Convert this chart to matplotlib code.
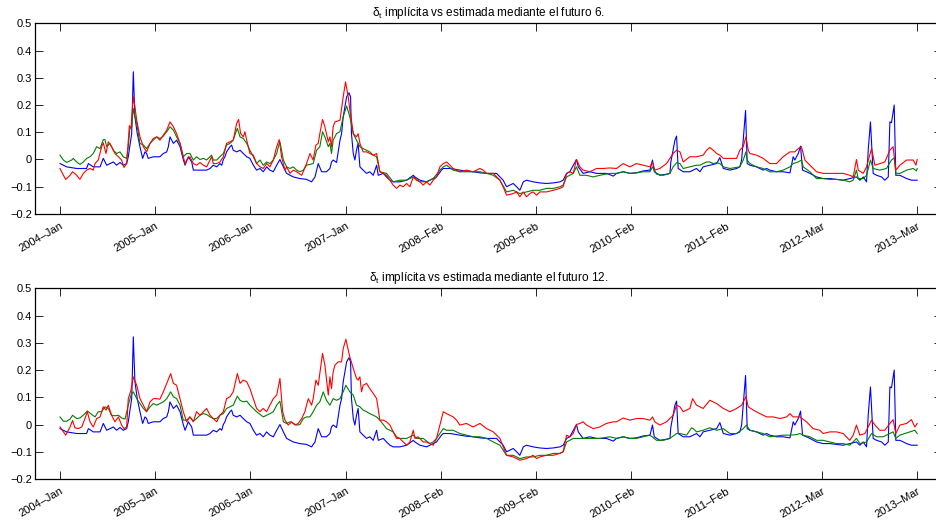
import numpy as np
import matplotlib
matplotlib.use("Agg")
import matplotlib.pyplot as plt

plt.rcParams['font.family'] = ['Liberation Sans', 'DejaVu Sans']
plt.rcParams['axes.unicode_minus'] = True

# Weekly observation index; one labelled tick every 53 weeks
tick_weeks = [0, 53, 106, 159, 212, 265, 318, 371, 424, 477]
tick_labels = ["2004–Jan", "2005–Jan", "2006–Jan", "2007–Jan", "2008–Feb",
               "2009–Feb", "2010–Feb", "2011–Feb", "2012–Mar", "2013–Mar"]
y_ticks = [-0.2, -0.1, 0.0, 0.1, 0.2, 0.3, 0.4, 0.5]
y_tick_labels = ["−0.2", "−0.1", "0", "0.1", "0.2", "0.3", "0.4", "0.5"]

# Implied delta_t (same series in both panels)
implied_weeks = [
    0, 3.7, 9.3, 14.8, 15.8, 18.5, 22.3, 24.1, 26.0, 29.7, 31.5, 33.4, 35.2, 37.1, 38.0, 39.9,
    40.8, 41.7, 43.0, 44.5, 46.0, 47.3, 48.2, 49.1, 51.9, 55.6, 57.5, 59.4, 60.3, 61.2, 63.1,
    64.9, 66.8, 68.6, 69.6, 71.4, 73.3, 74.2, 77.9, 81.6, 83.5, 85.3, 87.2, 89.0, 90.0, 90.9,
    91.8, 92.7, 94.6, 95.5, 96.4, 98.3, 100.2, 102.0, 103.9, 105.7, 107.6, 109.4, 111.3, 113.1,
    115.0, 116.8, 118.7, 120.6, 122.4, 124.3, 126.1, 129.8, 133.5, 137.2, 140.0, 141.9, 143.7,
    145.6, 148.3, 150.2, 151.1, 152.0, 153.9, 155.8, 156.7, 157.6, 159.5, 160.8, 161.7, 162.2,
    163.2, 164.1, 165.0, 165.9, 166.9, 168.7, 170.6, 172.4, 174.3, 176.2, 177.1, 179.9, 181.7,
    183.6, 185.4, 189.1, 192.9, 196.6, 197.5, 200.3, 204.0, 207.7, 209.5, 212.3, 213.3, 217.0,
    222.5, 226.2, 229.9, 233.7, 237.4, 241.1, 242.9, 244.8, 246.6, 248.5, 252.2, 254.1, 255.9,
    257.8, 259.6, 263.3, 267.0, 270.7, 274.5, 278.2, 280.0, 281.9, 283.7, 287.4, 288.4, 291.1,
    294.9, 298.6, 304.1, 307.9, 309.7, 313.4, 317.1, 320.8, 324.5, 328.3, 329.7, 330.7, 333.8,
    337.5, 339.4, 339.9, 342.2, 343.1, 344.0, 346.8, 350.5, 354.2, 356.1, 357.9, 361.6, 365.4,
    367.2, 369.1, 372.8, 376.5, 378.3, 379.3, 380.2, 381.5, 382.4, 383.9, 387.6, 391.3, 393.2,
    395.0, 398.7, 402.4, 406.2, 408.0, 408.9, 410.8, 412.1, 413.2, 415.4, 417.3, 421.0, 424.7,
    428.4, 432.1, 435.8, 439.5, 443.2, 445.1, 447.0, 448.8, 449.8, 451.0, 452.5, 454.4, 457.2,
    459.0, 460.9, 461.8, 462.7, 464.2, 465.1, 467.4, 471.1, 473.8, 477.0]
implied_vals = [
    -0.015, -0.027, -0.033, -0.033, -0.015, -0.027, -0.027, 0.004, -0.021, -0.009, -0.021, -0.011,
    -0.021, -0.015, 0.010, 0.095, 0.322, 0.157, 0.095, 0.047, 0.004, 0.028, 0.022, 0.004, 0.010,
    0.010, 0.022, 0.028, 0.047, 0.083, 0.059, 0.071, 0.047, 0.000, -0.021, 0.010, -0.009, -0.039,
    -0.039, -0.039, -0.033, -0.021, -0.027, -0.015, -0.021, 0.000, 0.010, 0.028, 0.047, 0.053,
    0.034, 0.028, 0.034, 0.022, 0.010, 0.004, -0.021, -0.039, -0.033, -0.045, -0.027, -0.039,
    -0.045, -0.021, 0.000, -0.027, -0.051, -0.064, -0.070, -0.073, -0.082, -0.064, -0.015,
    -0.045, -0.045, -0.033, -0.009, -0.002, -0.011, 0.071, 0.095, 0.157, 0.230, 0.245, 0.230,
    0.095, 0.022, -0.002, 0.034, 0.059, -0.027, -0.039, -0.051, -0.045, -0.058, -0.021, -0.058,
    -0.051, -0.064, -0.076, -0.082, -0.082, -0.076, -0.058, -0.064, -0.076, -0.082, -0.070,
    -0.064, -0.039, -0.033, -0.033, -0.039, -0.043, -0.045, -0.049, -0.051, -0.051, -0.051,
    -0.064, -0.076, -0.100, -0.088, -0.100, -0.113, -0.082, -0.076, -0.082, -0.086, -0.088,
    -0.086, -0.082, -0.076, -0.051, -0.045, 0.000, -0.027, -0.051, -0.045, -0.051, -0.051,
    -0.061, -0.051, -0.045, -0.051, -0.049, -0.042, -0.039, -0.002, -0.045, -0.058, -0.054,
    -0.051, -0.010, 0.071, 0.086, -0.033, -0.045, -0.045, -0.033, -0.045, -0.027, -0.021,
    -0.015, 0.007, -0.033, -0.039, -0.033, -0.027, -0.002, 0.071, 0.180, -0.015, -0.021,
    -0.027, -0.039, -0.033, -0.039, -0.045, -0.045, -0.049, 0.010, -0.002, 0.022, 0.049,
    -0.039, -0.045, -0.051, -0.064, -0.070, -0.070, -0.073, -0.076, -0.070, -0.064, -0.076,
    -0.064, -0.082, 0.040, 0.138, -0.051, -0.058, -0.064, -0.076, -0.064, 0.138, 0.135, 0.200,
    -0.058, -0.058, -0.070, -0.076, -0.076]

# Estimate from future 6 (green) and its alternative (red)
f6_green_weeks = [
    0, 1.9, 3.7, 6.5, 7.4, 9.3, 11.1, 13.0, 14.8, 16.7, 18.5, 20.4, 22.3, 24.1, 25.0, 26.0, 27.8,
    29.7, 31.5, 33.4, 35.2, 37.1, 38.0, 38.9, 39.9, 40.8, 41.7, 42.7, 44.5, 46.4, 48.2, 50.1,
    51.9, 53.8, 55.6, 57.5, 59.4, 61.2, 63.1, 64.9, 66.8, 68.6, 70.5, 72.3, 74.2, 76.0, 77.9,
    79.8, 81.6, 84.4, 85.3, 87.2, 89.0, 90.9, 92.7, 94.6, 96.4, 98.3, 98.7, 100.2, 102.0, 103.9,
    105.7, 107.6, 109.4, 111.3, 113.1, 115.0, 116.8, 118.7, 120.6, 121.5, 122.4, 124.3, 126.1,
    128.0, 129.8, 131.7, 133.5, 135.4, 137.2, 140.9, 142.8, 144.6, 146.1, 147.4, 149.3, 150.2,
    151.1, 152.0, 153.9, 155.8, 157.6, 159.5, 161.3, 163.2, 165.0, 166.9, 168.7, 170.6, 172.4,
    174.3, 176.2, 178.0, 181.7, 185.4, 189.1, 192.9, 196.6, 200.3, 204.0, 207.7, 211.4, 213.3,
    215.1, 218.8, 222.5, 226.2, 229.9, 233.7, 237.4, 241.1, 244.8, 248.5, 252.2, 255.9, 259.6,
    263.3, 267.0, 270.7, 274.5, 278.2, 280.0, 281.9, 285.6, 287.4, 289.3, 293.0, 296.7, 300.4,
    306.0, 309.7, 313.4, 317.1, 320.8, 324.5, 328.3, 329.7, 332.0, 335.7, 339.4, 341.2, 343.1,
    345.0, 346.8, 350.5, 354.2, 356.1, 359.8, 361.6, 363.5, 365.4, 367.2, 369.1, 372.8, 378.3,
    380.2, 381.7, 382.4, 383.9, 387.6, 391.3, 395.0, 398.7, 402.4, 406.2, 408.0, 410.8, 412.6,
    413.6, 417.3, 421.0, 424.7, 428.4, 432.1, 435.8, 439.5, 441.4, 443.2, 444.2, 447.0, 448.8,
    451.0, 452.5, 456.2, 459.9, 462.7, 464.2, 465.1, 467.4, 471.1, 474.8, 476.6, 477.0]
f6_green_vals = [
    0.016, -0.002, -0.011, -0.002, 0.004, -0.009, -0.018, -0.009, 0.004, 0.010, 0.022, 0.047,
    0.040, 0.073, 0.073, 0.047, 0.059, 0.034, 0.022, 0.028, 0.010, 0.004, 0.047, 0.114, 0.120,
    0.187, 0.157, 0.132, 0.059, 0.053, 0.040, 0.059, 0.071, 0.083, 0.077, 0.086, 0.102, 0.120,
    0.108, 0.083, 0.059, 0.010, 0.022, 0.022, -0.002, 0.010, 0.000, 0.004, -0.002, 0.016,
    -0.002, -0.002, 0.010, 0.022, 0.053, 0.059, 0.071, 0.108, 0.114, 0.083, 0.077, 0.059, 0.034,
    0.010, -0.015, -0.002, -0.021, -0.009, -0.015, -0.002, 0.022, 0.047, 0.065, -0.002, -0.027,
    -0.033, -0.027, -0.039, -0.045, -0.039, -0.021, -0.015, 0.034, 0.047, 0.102, 0.083, 0.047,
    0.059, 0.022, 0.071, 0.095, 0.102, 0.157, 0.196, 0.157, 0.095, 0.071, 0.047, 0.040, 0.034,
    0.028, 0.016, 0.010, -0.045, -0.051, -0.082, -0.076, -0.076, -0.064, -0.082, -0.082, -0.070,
    -0.039, -0.027, -0.021, -0.039, -0.045, -0.045, -0.045, -0.045, -0.051, -0.058, -0.076,
    -0.119, -0.113, -0.125, -0.119, -0.113, -0.113, -0.106, -0.106, -0.100, -0.094, -0.064,
    -0.051, -0.027, -0.058, -0.058, -0.064, -0.058, -0.051, -0.051, -0.045, -0.051, -0.049,
    -0.045, -0.045, -0.027, -0.054, -0.058, -0.051, -0.027, -0.012, -0.015, -0.033, -0.027,
    -0.021, -0.021, -0.009, -0.009, -0.015, -0.012, -0.015, -0.027, -0.033, -0.027, -0.002,
    0.028, -0.002, -0.015, -0.027, -0.033, -0.045, -0.045, -0.039, -0.027, -0.015, -0.009,
    -0.002, -0.027, -0.045, -0.070, -0.070, -0.073, -0.073, -0.076, -0.082, -0.076, -0.039,
    -0.070, -0.070, -0.058, -0.002, -0.033, -0.039, -0.033, -0.002, 0.006, -0.051, -0.051,
    -0.039, -0.033, -0.042, -0.033]

f6_red_weeks = [
    0, 1.9, 3.2, 5.6, 7.0, 9.3, 11.1, 13.0, 14.8, 16.7, 18.5, 19.5, 21.3, 23.2, 24.1, 25.6, 26.9,
    28.7, 30.6, 32.5, 34.3, 35.6, 37.1, 38.6, 39.5, 40.8, 41.7, 42.7, 44.5, 46.4, 48.2, 50.1,
    51.9, 53.8, 55.6, 57.5, 59.4, 61.2, 63.1, 64.9, 66.8, 68.6, 69.6, 70.5, 72.3, 74.2, 76.0,
    77.9, 79.8, 81.6, 84.4, 85.3, 87.2, 89.0, 90.9, 92.7, 94.6, 96.4, 98.3, 99.4, 100.5, 102.0,
    102.9, 103.9, 105.7, 107.6, 109.4, 111.3, 113.1, 115.0, 116.8, 118.7, 120.6, 122.0, 123.3,
    125.2, 126.1, 128.0, 129.8, 131.7, 134.5, 137.2, 139.1, 140.9, 142.4, 143.7, 144.6, 146.1,
    147.4, 149.3, 150.2, 151.1, 152.0, 153.0, 154.8, 155.8, 157.6, 158.9, 160.4, 161.3, 162.2,
    163.2, 165.0, 165.9, 166.9, 168.7, 170.6, 172.4, 174.3, 176.2, 178.0, 179.9, 181.7, 183.6,
    185.4, 187.3, 189.1, 191.0, 192.9, 194.7, 196.6, 198.4, 200.3, 202.1, 204.0, 205.8, 207.7,
    209.5, 211.4, 213.3, 215.1, 217.0, 218.8, 222.5, 226.2, 229.9, 233.7, 235.5, 237.4, 241.1,
    244.8, 246.6, 248.5, 252.2, 254.1, 255.9, 257.8, 259.6, 261.5, 263.3, 265.2, 267.0, 270.7,
    274.5, 278.2, 280.0, 281.9, 283.7, 285.6, 287.4, 289.3, 291.1, 294.9, 298.6, 302.3, 306.0,
    309.7, 313.4, 317.1, 320.8, 324.5, 328.3, 329.7, 331.0, 333.8, 337.5, 339.4, 341.2, 343.1,
    345.0, 346.8, 350.5, 354.2, 357.9, 359.8, 361.6, 363.5, 365.4, 367.2, 369.1, 372.8, 376.5,
    378.3, 380.2, 381.7, 383.0, 383.9, 387.6, 391.3, 395.0, 398.7, 402.4, 406.2, 408.9, 410.8,
    412.6, 414.5, 417.3, 421.0, 424.7, 428.4, 432.1, 435.8, 439.5, 441.4, 443.2, 444.2, 447.0,
    448.8, 451.6, 453.5, 456.2, 459.0, 461.8, 463.6, 465.1, 467.4, 471.1, 474.8, 476.3, 477.0]
f6_red_vals = [
    -0.033, -0.058, -0.073, -0.058, -0.045, -0.058, -0.073, -0.051, -0.039, -0.033, -0.039,
    -0.015, -0.002, 0.047, 0.061, 0.022, 0.065, 0.047, 0.022, 0.010, -0.002, -0.029, -0.015,
    0.124, 0.114, 0.230, 0.193, 0.144, 0.083, 0.047, 0.028, 0.059, 0.077, 0.083, 0.071, 0.089,
    0.108, 0.138, 0.120, 0.095, 0.059, 0.010, -0.015, -0.002, 0.010, -0.015, -0.021, -0.011,
    -0.021, -0.027, 0.010, -0.015, -0.015, -0.009, 0.010, 0.059, 0.065, 0.071, 0.132, 0.147,
    0.095, 0.083, 0.102, 0.071, 0.022, 0.016, -0.015, -0.027, -0.033, -0.015, -0.027, -0.002,
    0.047, 0.073, 0.010, -0.039, -0.027, -0.051, -0.039, -0.045, -0.058, -0.015, 0.022, -0.002,
    0.053, 0.059, 0.095, 0.147, 0.120, 0.065, 0.083, 0.047, 0.120, 0.138, 0.142, 0.144, 0.230,
    0.285, 0.230, 0.181, 0.144, 0.095, 0.083, 0.095, 0.059, 0.028, 0.028, 0.022, 0.016, 0.022,
    -0.045, -0.051, -0.058, -0.076, -0.094, -0.106, -0.094, -0.100, -0.088, -0.100, -0.064,
    -0.076, -0.082, -0.094, -0.082, -0.094, -0.076, -0.064, -0.027, -0.015, -0.009, -0.021,
    -0.033, -0.045, -0.039, -0.045, -0.033, -0.039, -0.051, -0.051, -0.076, -0.100, -0.131,
    -0.125, -0.119, -0.137, -0.119, -0.137, -0.125, -0.119, -0.131, -0.119, -0.119, -0.113,
    -0.106, -0.100, -0.051, -0.045, -0.051, 0.000, -0.027, -0.039, -0.045, -0.033, -0.033,
    -0.031, -0.033, -0.015, -0.027, -0.015, -0.021, -0.027, -0.009, -0.039, -0.033, -0.015,
    0.004, 0.022, 0.034, 0.028, -0.009, 0.010, 0.010, 0.016, 0.034, 0.044, 0.034, 0.022, 0.016,
    0.004, 0.004, 0.004, 0.034, 0.047, 0.083, 0.034, 0.022, 0.016, 0.004, -0.015, -0.015,
    0.010, 0.028, 0.028, 0.040, 0.047, -0.002, -0.021, -0.045, -0.051, -0.051, -0.051, -0.051,
    -0.058, -0.064, 0.000, -0.039, -0.051, -0.027, 0.040, -0.021, -0.015, -0.009, 0.034, 0.047,
    -0.039, -0.021, -0.002, -0.002, -0.021, 0.000]

# Estimate from future 12 (green) and its alternative (red)
f12_green_weeks = [
    0, 1.9, 3.7, 5.6, 7.0, 9.3, 11.1, 13.9, 15.2, 17.6, 19.5, 21.3, 23.2, 25.0, 26.9, 28.7,
    30.6, 32.5, 34.3, 36.2, 38.0, 39.5, 40.8, 42.7, 44.5, 46.4, 48.2, 50.1, 51.9, 53.8, 55.6,
    57.5, 59.4, 61.6, 63.1, 64.9, 66.8, 68.6, 70.5, 72.3, 74.2, 76.0, 77.9, 79.8, 81.6, 83.5,
    85.3, 87.2, 89.0, 90.9, 92.7, 94.6, 96.4, 98.7, 100.2, 102.0, 103.9, 105.7, 107.6, 109.4,
    111.3, 113.1, 115.0, 116.8, 118.7, 120.6, 122.4, 124.3, 126.1, 128.0, 129.8, 131.7, 133.5,
    135.4, 137.2, 139.1, 140.9, 142.8, 144.6, 146.5, 148.3, 150.2, 151.1, 152.0, 153.9, 155.8,
    157.6, 159.1, 161.3, 163.2, 165.0, 166.9, 168.7, 170.6, 172.4, 174.3, 176.2, 178.0, 181.7,
    185.4, 187.3, 189.1, 192.9, 196.6, 198.4, 202.1, 205.8, 207.7, 209.5, 211.4, 213.3, 215.1,
    218.8, 222.5, 226.2, 229.9, 233.7, 237.4, 241.1, 244.8, 246.6, 248.5, 252.2, 255.9, 259.6,
    263.3, 267.0, 270.7, 274.5, 278.2, 280.0, 281.9, 285.6, 289.3, 293.0, 296.7, 300.4, 306.0,
    309.7, 313.4, 317.1, 320.8, 324.5, 328.3, 332.0, 335.7, 339.4, 343.1, 345.0, 348.7, 351.4,
    352.4, 354.2, 357.9, 361.6, 365.4, 369.1, 372.8, 376.5, 380.2, 382.0, 383.9, 387.6, 391.3,
    395.0, 398.7, 402.4, 406.2, 409.9, 411.7, 413.6, 417.3, 421.0, 424.7, 428.4, 432.1, 435.8,
    439.5, 443.2, 445.1, 448.8, 451.6, 454.4, 458.1, 461.8, 463.6, 465.1, 467.4, 472.9, 475.7,
    477.0]
f12_green_vals = [
    0.028, 0.012, 0.012, 0.020, 0.034, 0.022, 0.024, 0.040, 0.050, 0.037, 0.028, 0.047, 0.047,
    0.065, 0.059, 0.034, 0.032, 0.034, 0.024, 0.020, 0.071, 0.108, 0.120, 0.095, 0.077, 0.059,
    0.047, 0.065, 0.077, 0.071, 0.077, 0.083, 0.095, 0.120, 0.102, 0.095, 0.071, 0.016, 0.016,
    0.028, 0.012, 0.022, 0.034, 0.040, 0.037, 0.028, 0.022, 0.022, 0.034, 0.040, 0.059, 0.065,
    0.071, 0.104, 0.089, 0.083, 0.086, 0.071, 0.059, 0.047, 0.037, 0.028, 0.034, 0.040, 0.047,
    0.071, 0.086, 0.010, 0.004, 0.010, 0.004, -0.002, 0.000, 0.022, 0.028, 0.028, 0.047, 0.071,
    0.083, 0.120, 0.089, 0.071, 0.083, 0.095, 0.089, 0.095, 0.120, 0.144, 0.120, 0.108, 0.071,
    0.065, 0.053, 0.047, 0.040, 0.034, 0.028, 0.016, -0.015, -0.027, -0.045, -0.051, -0.051,
    -0.039, -0.051, -0.051, -0.070, -0.064, -0.051, -0.033, -0.015, -0.021, -0.021, -0.033,
    -0.039, -0.045, -0.045, -0.051, -0.064, -0.076, -0.094, -0.113, -0.113, -0.125, -0.119,
    -0.119, -0.113, -0.113, -0.106, -0.106, -0.100, -0.064, -0.051, -0.051, -0.051, -0.051,
    -0.051, -0.045, -0.051, -0.045, -0.051, -0.051, -0.045, -0.039, -0.058, -0.058, -0.051,
    -0.033, -0.033, -0.039, -0.012, -0.015, -0.027, -0.021, -0.012, -0.021, -0.015, -0.033,
    -0.033, -0.015, -0.002, -0.021, -0.027, -0.033, -0.045, -0.042, -0.039, -0.039, -0.037,
    -0.033, -0.039, -0.045, -0.058, -0.058, -0.064, -0.070, -0.070, -0.076, -0.051, -0.070,
    -0.064, -0.033, -0.045, -0.045, -0.033, -0.027, -0.051, -0.039, -0.027, -0.021, -0.033]

f12_red_weeks = [
    0, 1.9, 3.2, 5.6, 7.0, 8.3, 10.2, 12.1, 13.9, 15.2, 16.7, 18.5, 20.4, 22.3, 24.1, 25.6,
    26.9, 28.7, 30.6, 32.5, 34.3, 35.6, 37.1, 38.0, 39.5, 40.8, 42.7, 44.5, 46.4, 48.2, 50.1,
    51.9, 53.8, 55.6, 57.5, 59.4, 61.6, 63.1, 64.9, 66.8, 68.6, 70.5, 72.3, 74.2, 76.0, 77.9,
    79.8, 81.6, 83.5, 85.3, 87.2, 89.0, 90.9, 92.7, 94.6, 96.4, 98.7, 100.2, 102.0, 103.9,
    105.7, 107.6, 109.4, 111.3, 113.1, 115.0, 116.8, 118.7, 120.6, 122.4, 123.9, 125.2, 127.0,
    128.9, 130.8, 132.6, 134.5, 136.3, 137.2, 138.2, 140.0, 140.9, 142.4, 143.7, 145.0, 146.1,
    147.4, 149.3, 150.2, 151.1, 152.0, 153.0, 154.8, 156.7, 157.6, 159.1, 160.4, 161.3, 163.2,
    165.0, 165.9, 166.9, 167.8, 168.7, 170.6, 172.4, 174.3, 176.2, 178.0, 179.9, 181.7, 183.6,
    185.4, 187.3, 189.1, 191.0, 192.9, 194.7, 196.6, 197.5, 199.3, 202.1, 204.0, 207.7, 209.5,
    211.4, 213.3, 215.1, 217.0, 218.8, 220.7, 222.5, 226.2, 229.9, 233.7, 237.4, 241.1, 244.8,
    248.5, 252.2, 255.9, 259.6, 263.3, 265.2, 267.0, 270.7, 274.5, 278.2, 280.0, 281.9, 283.7,
    285.6, 287.4, 289.3, 291.1, 293.0, 296.7, 300.4, 304.1, 307.9, 309.7, 313.4, 317.1, 320.8,
    324.5, 328.3, 329.7, 331.0, 333.8, 337.5, 341.2, 343.1, 345.0, 346.8, 350.5, 352.0, 354.2,
    357.9, 361.6, 365.4, 369.1, 372.8, 376.5, 379.3, 381.7, 383.0, 385.8, 389.5, 393.2, 396.9,
    400.6, 404.3, 406.2, 408.0, 411.7, 415.4, 419.1, 422.8, 424.7, 428.4, 432.1, 435.8, 439.5,
    441.4, 443.2, 445.1, 447.9, 451.6, 453.5, 456.2, 459.0, 461.8, 463.6, 465.1, 467.4, 471.1,
    473.8, 475.7, 477.0]
f12_red_vals = [
    -0.009, -0.027, -0.039, -0.009, 0.015, -0.012, -0.015, -0.009, 0.022, 0.047, 0.010, -0.009,
    0.022, 0.028, 0.065, 0.053, 0.071, 0.034, 0.010, 0.028, -0.002, -0.015, -0.009, 0.095,
    0.126, 0.175, 0.144, 0.095, 0.071, 0.047, 0.083, 0.095, 0.095, 0.093, 0.120, 0.151, 0.187,
    0.151, 0.144, 0.095, 0.047, 0.010, 0.028, 0.010, 0.047, 0.034, 0.047, 0.059, 0.034, 0.022,
    0.010, 0.034, 0.047, 0.095, 0.102, 0.120, 0.187, 0.151, 0.163, 0.157, 0.132, 0.095, 0.059,
    0.047, 0.059, 0.047, 0.071, 0.095, 0.108, 0.169, 0.047, 0.016, -0.002, 0.010, -0.002, 0.004,
    0.022, 0.047, 0.071, 0.095, 0.071, 0.095, 0.163, 0.144, 0.206, 0.261, 0.218, 0.108, 0.175,
    0.132, 0.193, 0.218, 0.230, 0.230, 0.279, 0.313, 0.273, 0.248, 0.206, 0.169, 0.163, 0.175,
    0.120, 0.144, 0.151, 0.132, 0.114, 0.095, 0.016, 0.016, 0.010, -0.002, -0.027, -0.051,
    -0.051, -0.064, -0.076, -0.064, -0.021, -0.051, -0.045, -0.064, -0.064, -0.076, -0.051,
    -0.002, 0.047, 0.040, 0.034, 0.028, 0.016, -0.002, 0.004, -0.009, 0.004, -0.015, -0.027,
    -0.051, -0.113, -0.119, -0.131, -0.125, -0.113, -0.125, -0.119, -0.113, -0.113, -0.106,
    -0.100, -0.039, -0.045, -0.033, 0.000, 0.004, 0.010, -0.002, -0.015, -0.009, 0.004, 0.010,
    0.010, 0.024, 0.016, 0.022, 0.022, 0.016, 0.028, 0.010, -0.002, 0.010, 0.034, 0.071, 0.065,
    0.047, 0.059, 0.095, 0.071, 0.059, 0.089, 0.077, 0.059, 0.047, 0.059, 0.071, 0.102, 0.065,
    0.053, 0.040, 0.028, 0.028, 0.022, 0.028, 0.040, 0.028, 0.028, 0.010, -0.015, -0.021,
    -0.033, -0.027, -0.027, -0.033, -0.058, -0.039, -0.002, -0.039, -0.033, 0.016, -0.002,
    -0.021, -0.021, 0.004, 0.018, -0.033, -0.002, 0.004, 0.018, -0.009, 0.004]

panels = [
    ("futuro 6", f6_green_weeks, f6_green_vals, f6_red_weeks, f6_red_vals),
    ("futuro 12", f12_green_weeks, f12_green_vals, f12_red_weeks, f12_red_vals),
]

fig = plt.figure(figsize=(9.36, 5.21), dpi=100)
# [left, bottom, width, height] in figure fractions (MATLAB-like layout)
positions = [[0.0374, 0.5893, 0.969, 0.366], [0.0374, 0.0806, 0.969, 0.366]]

for pos, (name, gw, gv, rw, rv) in zip(positions, panels):
    ax = fig.add_axes(pos)
    ax.plot(implied_weeks, implied_vals, color=(0, 0, 1), lw=0.8)
    ax.plot(gw, gv, color=(0, 0.5, 0), lw=0.8)
    ax.plot(rw, rv, color=(1, 0, 0), lw=0.8)
    ax.set_xlim(-13.9, 490.8)
    ax.set_ylim(-0.2, 0.5)
    ax.set_yticks(y_ticks)
    ax.set_yticklabels(y_tick_labels)
    ax.set_xticks(tick_weeks)
    ax.set_xticklabels(tick_labels, rotation=30, ha='right', rotation_mode='anchor')
    ax.tick_params(direction='in', length=6, width=0.6, top=True, right=True,
                   labelsize=8, colors='black')
    ax.tick_params(axis='x', pad=5)
    ax.tick_params(axis='y', pad=2)
    for s in ax.spines.values():
        s.set_linewidth(0.9)
    ax.set_title("δ$_{\\mathregular{t}}$ implícita vs estimada mediante el " + name + ".",
                 fontsize=8.5, pad=5)

fig.savefig("out.png", dpi=100)
